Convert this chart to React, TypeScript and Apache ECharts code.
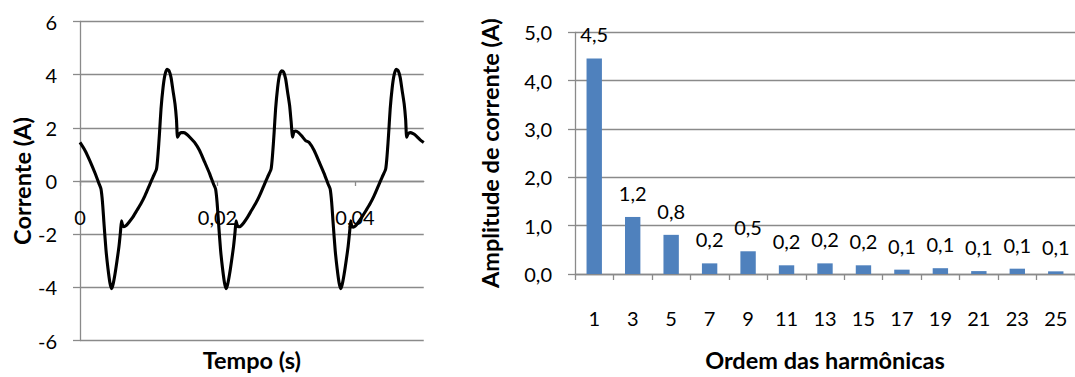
import React, { useEffect, useRef } from "react";
import * as echarts from "echarts";

// ---- Left chart: current waveform ----
const timeS = [
  0.0, 0.000727, 0.001455, 0.002182, 0.002764, 0.003055, 0.003273, 0.003491, 0.003782, 0.004073,
  0.004364, 0.004582, 0.0048, 0.005091, 0.005382, 0.005673, 0.005891, 0.006036, 0.006182, 0.0064,
  0.006691, 0.007127, 0.007709, 0.008291, 0.008873, 0.009455, 0.010036, 0.010618, 0.011127, 0.011345,
  0.011564, 0.011782, 0.012073, 0.012364, 0.012655, 0.012945, 0.013236, 0.013527, 0.013818, 0.014036,
  0.014182, 0.0144, 0.014691, 0.015127, 0.015564, 0.016145,
  0.016667, 0.017394, 0.018121, 0.018848, 0.01943, 0.019721, 0.019939, 0.020158, 0.020448, 0.020739,
  0.02103, 0.021248, 0.021467, 0.021758, 0.022048, 0.022339, 0.022558, 0.022703, 0.022848, 0.023067,
  0.023358, 0.023794, 0.024376, 0.024958, 0.025539, 0.026121, 0.026703, 0.027285, 0.027794, 0.028012,
  0.02823, 0.028448, 0.028739, 0.02903, 0.029321, 0.029612, 0.029903, 0.030194, 0.030485, 0.030703,
  0.030921, 0.031115, 0.031358, 0.031794, 0.03223, 0.032812,
  0.033333, 0.034061, 0.034788, 0.035515, 0.036097, 0.036388, 0.036606, 0.036824, 0.037115, 0.037406,
  0.037697, 0.037915, 0.038133, 0.038424, 0.038715, 0.039006, 0.039224, 0.03937, 0.039515, 0.039733,
  0.040024, 0.040461, 0.041042, 0.041624, 0.042206, 0.042788, 0.04337, 0.043952, 0.044461, 0.044679,
  0.044897, 0.045115, 0.045406, 0.045697, 0.045988, 0.046279, 0.04657, 0.046861, 0.047152, 0.04737,
  0.047515, 0.047733, 0.048024, 0.048461, 0.048897, 0.049479, 0.05,
];
const currentA = [
  1.45, 1.15, 0.75, 0.3, -0.1, -0.3, -0.8, -1.6, -2.6, -3.3,
  -3.85, -4.05, -3.9, -3.5, -3.0, -2.45, -1.9, -1.5, -1.65, -1.72,
  -1.68, -1.55, -1.35, -1.1, -0.85, -0.55, -0.2, 0.15, 0.45, 1.0,
  1.8, 2.7, 3.5, 4.0, 4.2, 4.15, 3.9, 3.4, 2.9, 2.3,
  1.65, 1.75, 1.82, 1.82, 1.75, 1.6,
  1.45, 1.15, 0.72, 0.28, -0.12, -0.3, -0.8, -1.6, -2.6, -3.3,
  -3.85, -4.05, -3.9, -3.5, -3.0, -2.45, -1.9, -1.5, -1.65, -1.72,
  -1.7, -1.58, -1.36, -1.1, -0.85, -0.55, -0.2, 0.15, 0.45, 1.0,
  1.8, 2.7, 3.5, 4.0, 4.15, 4.1, 3.85, 3.35, 2.85, 2.25,
  1.65, 1.85, 1.88, 1.82, 1.7, 1.52,
  1.45, 1.15, 0.72, 0.28, -0.12, -0.3, -0.8, -1.6, -2.6, -3.3,
  -3.85, -4.05, -3.9, -3.5, -3.0, -2.45, -1.9, -1.5, -1.68, -1.74,
  -1.7, -1.56, -1.34, -1.1, -0.85, -0.55, -0.2, 0.15, 0.45, 1.0,
  1.8, 2.7, 3.5, 4.0, 4.2, 4.15, 3.9, 3.4, 2.9, 2.3,
  1.65, 1.78, 1.82, 1.78, 1.7, 1.55, 1.45,
];

// ---- Right chart: harmonic spectrum ----
const harmonicOrders = ["1", "3", "5", "7", "9", "11", "13", "15", "17", "19", "21", "23", "25"];
const harmonicAmplitudes = [4.46, 1.18, 0.81, 0.22, 0.47, 0.18, 0.22, 0.18, 0.09, 0.12, 0.06, 0.11, 0.055];

const FONT = "Lato, 'Liberation Sans', sans-serif";
const GRID_COLOR = "#8a8a8a";
const comma = (v: number, d: number) => v.toFixed(d).replace(".", ",");

export default function App() {
  const ref = useRef<HTMLDivElement>(null);
  useEffect(() => {
    if (!ref.current) return;
    const chart = echarts.init(ref.current, undefined, { renderer: "svg" });
    const waveData = timeS.map((t, i) => [t, currentA[i]]);
    const axisLine = { show: true, lineStyle: { color: GRID_COLOR, width: 1.3 } };
    const axisTick = { show: true, length: 7, lineStyle: { color: GRID_COLOR, width: 1.3 } };
    const labelStyle = { color: "#000", fontFamily: FONT, fontSize: 20 };
    const nameStyle = { color: "#000", fontFamily: FONT, fontSize: 23.5, fontWeight: "bold" as const };
    const leftTop = 21.5;
    const leftHeight = 319;
    chart.setOption({
      animation: false,
      textStyle: { fontFamily: FONT },
      grid: [
        { left: 80, top: leftTop, width: 343.75, height: leftHeight },
        { left: 575, top: 32.3, width: 504.4, height: 245 },
      ],
      xAxis: [
        {
          gridIndex: 0,
          type: "value",
          position: "bottom",
          // Excel draws this axis where the vertical axis crosses 0 (half of the plot height up)
          offset: -leftHeight / 2,
          min: 0,
          max: 0.05,
          interval: 0.02,
          axisLine: { ...axisLine, onZero: false },
          axisTick: { ...axisTick, length: 5 },
          splitLine: { show: false },
          axisLabel: {
            ...labelStyle,
            margin: 26,
            showMaxLabel: false,
            formatter: (v: number) => (v === 0 ? "0" : comma(v, 2)),
          },
        },
        {
          gridIndex: 1,
          type: "category",
          data: harmonicOrders,
          axisLine,
          axisTick: { ...axisTick, length: 6 },
          axisLabel: { ...labelStyle, margin: 34 },
          name: "Ordem das harmônicas",
          nameLocation: "middle",
          nameGap: 74,
          nameTextStyle: nameStyle,
        },
      ],
      yAxis: [
        {
          gridIndex: 0,
          type: "value",
          min: -6,
          max: 6,
          interval: 2,
          axisLine: { ...axisLine, onZero: false },
          axisTick,
          splitLine: { show: true, lineStyle: { color: GRID_COLOR, width: 1.3 } },
          axisLabel: { ...labelStyle, margin: 23 },
          name: "Corrente (A)",
          nameLocation: "middle",
          nameGap: 46,
          nameRotate: 90,
          nameTextStyle: nameStyle,
        },
        {
          gridIndex: 1,
          type: "value",
          min: 0,
          max: 5,
          interval: 1,
          axisLine: { ...axisLine, onZero: false },
          axisTick,
          splitLine: { show: true, lineStyle: { color: GRID_COLOR, width: 1.3 } },
          axisLabel: { ...labelStyle, margin: 23, formatter: (v: number) => comma(v, 1) },
          name: "Amplitude de corrente (A)",
          nameLocation: "middle",
          nameGap: 73,
          nameRotate: 90,
          nameTextStyle: nameStyle,
        },
      ],
      graphic: [
        {
          type: "text",
          x: 251.9,
          y: 360,
          style: {
            text: "Tempo (s)",
            fill: "#000",
            font: `bold 23.5px ${FONT}`,
            textAlign: "center",
            textVerticalAlign: "middle",
          },
        },
      ],
      series: [
        {
          type: "line",
          xAxisIndex: 0,
          yAxisIndex: 0,
          data: waveData,
          showSymbol: false,
          smooth: 0.2,
          lineStyle: { color: "#000", width: 3.1 },
          z: 5,
        },
        {
          type: "bar",
          xAxisIndex: 1,
          yAxisIndex: 1,
          data: harmonicAmplitudes,
          barWidth: "40%",
          itemStyle: { color: "#4F81BD" },
          label: {
            show: true,
            position: "top",
            distance: 14,
            ...labelStyle,
            formatter: (p: any) => comma(p.value, 1),
          },
        },
      ],
    });
    return () => chart.dispose();
  }, []);
  return (
    <div
      ref={ref}
      style={{ position: "absolute", left: 0, top: 0, width: 1075, height: 377, background: "#fff" }}
    />
  );
}
